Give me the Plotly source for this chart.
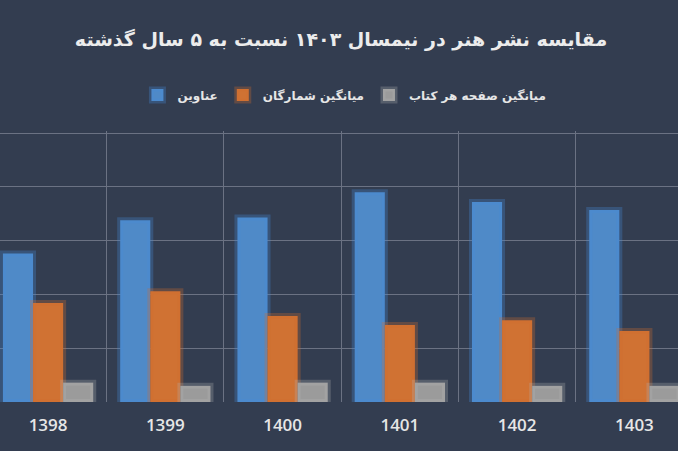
import plotly.graph_objects as go

years = ["1398", "1399", "1400", "1401", "1402", "1403"]
titles = [276, 338, 343, 390, 372, 357]
avg_print_run = [184, 206, 160, 143, 152, 132]
avg_pages = [36, 30, 36, 36, 30, 30]

series_names = ["عناوین", "میانگین شمارگان", "میانگین صفحه هر کتاب"]
fills = ["#4f8ac8", "#d07233", "#9b9b9b"]
glows = ["rgba(70,140,220,0.30)", "rgba(210,110,45,0.30)", "rgba(180,180,180,0.28)"]

BG = "#333d50"
TXT = "#e6e6e6"

fig = go.Figure()
for name, vals, fc, gc in zip(series_names, [titles, avg_print_run, avg_pages], fills, glows):
    fig.add_trace(go.Bar(
        x=years, y=vals, name=name,
        marker=dict(color=fc, line=dict(color=gc, width=6)),
    ))

fig.update_layout(
    width=678, height=451,
    paper_bgcolor=BG, plot_bgcolor=BG,
    margin=dict(l=0, r=0, t=131, b=49),
    barmode="group", bargap=0.23, bargroupgap=0,
    font=dict(family="DejaVu Sans", color=TXT),
    title=dict(
        text="<b>مقایسه نشر هنر در نیمسال ۱۴۰۳ نسبت به ۵ سال گذشته</b>",
        x=0.503, xanchor="center", y=1 - 39 / 451, yanchor="middle",
        font=dict(size=19, color="#ececec", family="DejaVu Sans"),
    ),
    legend=dict(
        orientation="h", x=0.508, xanchor="center", y=1 - 95 / 451, yref="container",
        yanchor="middle",
        font=dict(size=12, color=TXT, family="DejaVu Sans", weight="bold"),
        traceorder="normal", itemwidth=30,
    ),
    showlegend=True,
)

fig.update_xaxes(
    type="category", range=[-0.41, 5.372],
    tickson="boundaries", showgrid=True, gridcolor="#6b7283", gridwidth=1,
    ticks="", showline=False, zeroline=False, ticklabelstandoff=11,
    tickfont=dict(size=17, color=TXT, family="Open Sans", weight=600),
)
fig.update_yaxes(
    range=[0, 504], dtick=100, showgrid=True, gridcolor="#6b7283", gridwidth=1,
    showticklabels=False, zeroline=False, showline=False, ticks="",
)

fig.write_html("out.html")
